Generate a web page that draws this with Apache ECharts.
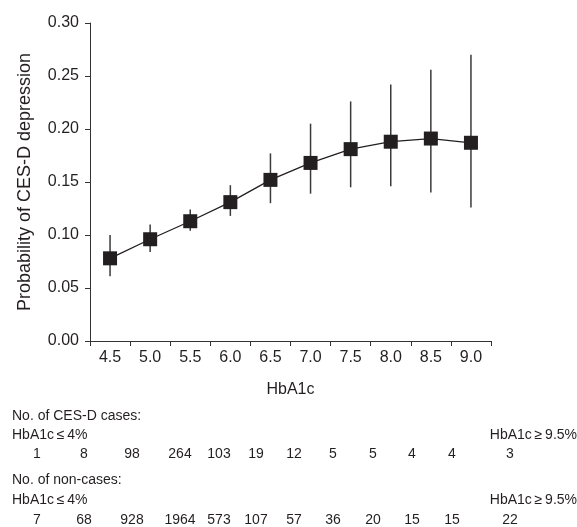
<!DOCTYPE html>
<html>
<head>
<meta charset="utf-8">
<script src="https://cdn.jsdelivr.net/npm/echarts@6/dist/echarts.min.js"></script>
<style>
html,body{margin:0;padding:0;background:#fff;}
#c{width:577px;height:527px;}
</style>
</head>
<body>
<div id="c"></div>
<script>
// ---- data ----
const categories = ['4.5','5.0','5.5','6.0','6.5','7.0','7.5','8.0','8.5','9.0'];
const probability = [0.078,0.096,0.113,0.131,0.152,0.168,0.181,0.188,0.191,0.187];
const ciLow  = [0.061,0.084,0.104,0.118,0.130,0.139,0.145,0.146,0.140,0.126];
const ciHigh = [0.100,0.110,0.124,0.147,0.177,0.205,0.226,0.242,0.256,0.270];
const yTicks = [0,0.05,0.10,0.15,0.20,0.25,0.30];
const casesCounts    = [1,8,98,264,103,19,12,5,5,4,4,3];
const nonCasesCounts = [7,68,928,1964,573,107,57,36,20,15,15,22];
const casesTitle = 'No. of CES-D cases:';
const nonCasesTitle = 'No. of non-cases:';
const lowLabel = 'HbA1c\u2009\u2264\u20094%';
const highLabel = 'HbA1c\u2009\u2265\u20099.5%';

// ---- layout (not data) ----
const FONT = "'Liberation Sans', Arial, Helvetica, sans-serif";
const TXT = '#231f20';
const colX = [37,84,132,180,219,256,294,333,373,412,452,510];

const chart = echarts.init(document.getElementById('c'), null, {renderer:'canvas'});

const errData = categories.map((c,i)=>[i, ciLow[i], ciHigh[i]]);

const graphics = [];
function addText(str, x, y, align){
  graphics.push({type:'text', x:x, y:y, style:{text:str, x:0, y:0, fill:TXT, font:'14px '+FONT, textAlign:align||'left', textVerticalAlign:'middle'}});
}
addText(casesTitle, 12, 416);
addText(lowLabel, 12, 435);
addText(highLabel, 577, 435, 'right');
casesCounts.forEach((v,i)=>addText(String(v), colX[i], 454, 'center'));
addText(nonCasesTitle, 12, 480);
addText(lowLabel, 12, 500);
addText(highLabel, 577, 500, 'right');
nonCasesCounts.forEach((v,i)=>addText(String(v), colX[i], 520, 'center'));

chart.setOption({
  animation:false,
  backgroundColor:'#fff',
  grid:{left:90, top:23, width:401, height:318, containLabel:false},
  xAxis:{
    type:'category', data:categories, boundaryGap:true,
    name:'HbA1c', nameLocation:'middle', nameGap:41,
    nameTextStyle:{color:TXT, fontSize:16, fontFamily:FONT},
    axisLine:{lineStyle:{color:'#333', width:1}},
    axisTick:{show:true, length:5, inside:false, alignWithLabel:false, lineStyle:{color:'#333'}},
    axisLabel:{color:TXT, fontSize:16, fontFamily:FONT, margin:9},
    splitLine:{show:false}
  },
  yAxis:{
    type:'value', min:0, max:0.30, interval:0.05,
    name:'Probability of CES-D depression', nameLocation:'middle', nameGap:56,
    nameTextStyle:{color:TXT, fontSize:18, fontFamily:FONT},
    axisLine:{show:true, lineStyle:{color:'#333', width:1}},
    axisTick:{show:true, length:5, lineStyle:{color:'#333'}},
    axisLabel:{color:TXT, fontSize:16, fontFamily:FONT, margin:11,
      formatter:function(v){ const t = yTicks.find(y=>Math.abs(y-v)<1e-9); return (t!==undefined? t: v).toFixed(2); }},
    splitLine:{show:false}
  },
  series:[
    {
      type:'custom',
      data:errData,
      z:1,
      renderItem:function(params, api){
        const x = api.value(0);
        const p1 = api.coord([x, api.value(1)]);
        const p2 = api.coord([x, api.value(2)]);
        return {type:'line', shape:{x1:p1[0], y1:p1[1], x2:p2[0], y2:p2[1]},
          style:{stroke:'#3a3a3a', lineWidth:1.5}};
      }
    },
    {
      type:'line', data:probability, z:2,
      symbol:'rect', symbolSize:14, showSymbol:true,
      lineStyle:{color:'#231f20', width:1.3},
      itemStyle:{color:'#231f20'}
    }
  ],
  graphic:graphics
});
</script>
</body>
</html>
